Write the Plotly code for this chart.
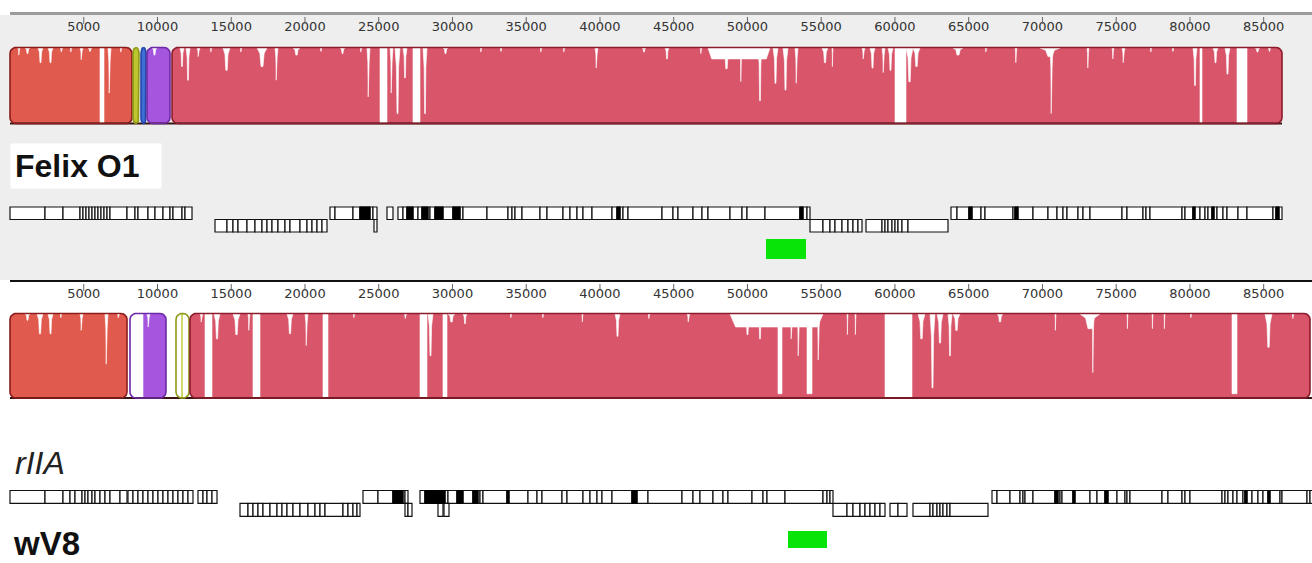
import numpy as np
import plotly.graph_objects as go

# ---------------- data (genome coordinates, bp) ----------------
TICKS = list(range(5000, 85001, 5000))

# Felix O1 LCBs
felix_block_start = [0, 8339, 8882, 9289, 10984]
felix_block_end = [8272, 8746, 9221, 10848, 86242]
felix_genome_len = 86242
# wV8 LCBs
wv8_block_start = [0, 8136, 11255, 12204]
wv8_block_end = [7933, 10577, 12136, 88140]
wv8_genome_len = 88573

# similarity dips (start, end, depth fraction of block height)
felix_dip_start = [542, 1017, 1898, 2576, 3390, 4068, 4746, 5288, 6102, 6644, 7458, 9628,
                   11526, 11933, 12679, 13560, 14441, 15594, 16747, 17967, 19187, 21018, 22374,
                   23730, 24205, 25086, 25764, 26103, 26645, 27323, 28001, 29357, 31866, 33222,
                   35934, 37493, 39663, 42850, 44409, 46782, 47324, 48341, 49494, 50714, 51731,
                   52409, 53223, 55054, 55732, 57766, 58308, 59122, 59528, 60003, 60749, 61223,
                   63935, 66105, 68139, 69834, 70512, 73021, 74716, 75394, 77292, 78780, 80207,
                   80682, 81563, 82377, 83191, 84411, 85292]
felix_dip_end = [678, 1356, 2237, 2915, 3593, 4204, 4949, 5560, 6373, 6848, 7594, 9967,
                 11798, 12204, 12882, 13696, 14916, 15730, 17425, 18170, 19662, 21154, 22713,
                 23866, 24408, 25561, 25967, 26442, 26917, 27798, 28273, 29696, 32002, 33358,
                 36070, 37629, 39866, 43120, 44680, 46918, 51528, 48816, 49630, 50986, 52070,
                 52748, 53426, 55460, 55799, 57969, 58647, 59325, 59867, 60749, 61223, 61698,
                 64613, 66241, 68275, 71190, 70715, 73157, 74852, 75597, 77428, 78916, 80479,
                 80818, 81903, 82716, 83869, 84750, 85496]
felix_dip_depth = [0.10, 0.08, 0.20, 0.20, 0.06, 0.06, 0.16, 0.05, 1.00, 0.60, 0.06, 0.10,
                   0.25, 0.43, 0.12, 0.06, 0.30, 0.06, 0.25, 0.43, 0.10, 0.05, 0.08,
                   0.06, 0.65, 1.00, 0.60, 0.87, 0.40, 1.00, 0.87, 0.08, 0.06, 0.05,
                   0.06, 0.06, 0.27, 0.06, 0.15, 0.08, 0.15, 0.28, 0.45, 0.70, 0.47,
                   0.56, 0.47, 0.20, 0.25, 0.15, 0.27, 0.33, 0.30, 1.00, 0.45, 0.25,
                   0.10, 0.06, 0.20, 0.12, 0.87, 0.27, 0.15, 0.20, 0.06, 0.05, 0.50,
                   1.00, 0.20, 0.35, 1.00, 0.06, 0.05]

wv8_dip_start = [1017, 1831, 2576, 3390, 4746, 6441, 7255, 8136, 9289, 11255, 11729, 12882,
                 13221, 13831, 15119, 16136, 16475, 18781, 20001, 21221, 23255, 26714, 27798,
                 28340, 29357, 29696, 30713, 33900, 36070, 38782, 41019, 43256, 45901, 48816,
                 49833, 50714, 52070, 52884, 53359, 54037, 54715, 56749, 57291, 59325, 61562,
                 62376, 62851, 63596, 63935, 66919, 70851, 72546, 73360, 75733, 77428, 78241,
                 80004, 82852, 85089, 86920]
wv8_dip_end = [1356, 2237, 2915, 3526, 4949, 6644, 7458, 9017, 9492, 11594, 12136, 13085,
               13696, 14238, 15594, 16272, 16950, 19187, 20204, 21560, 23391, 26917, 28273,
               28679, 29629, 30171, 30985, 34036, 36206, 38849, 41358, 43392, 46104, 55121,
               50172, 50986, 52342, 53087, 53562, 54376, 54918, 56816, 57359, 61156, 62037,
               62715, 63257, 63868, 64410, 67325, 70919, 73902, 73496, 75800, 77496, 78309,
               80140, 83191, 85564, 87056]
wv8_dip_depth = [0.08, 0.24, 0.24, 0.05, 0.20, 0.60, 0.05, 1.00, 0.16, 1.00, 1.00, 0.10,
                 1.00, 0.30, 0.25, 0.20, 1.00, 0.24, 0.38, 1.00, 0.05, 0.06, 1.00,
                 0.50, 1.00, 0.10, 0.12, 0.05, 0.05, 0.10, 0.27, 0.06, 0.10, 0.16,
                 0.25, 0.30, 0.95, 0.30, 0.50, 0.95, 0.55, 0.25, 0.25, 1.00, 0.30,
                 0.88, 0.35, 0.50, 0.20, 0.10, 0.20, 0.18, 0.70, 0.18, 0.18, 0.18,
                 0.05, 0.95, 0.40, 0.06]

# gene annotations: runs of adjacent gene boundaries
felix_fwd_runs = [
    [0, 2373, 3593, 4746, 4949, 5153, 5356, 5560, 5763, 5966, 6170, 6373, 6577, 6780, 7933,
     8475, 8678, 9356, 9831, 10373, 10848, 11051, 11662, 11865, 12340],
    [21696, 22035, 23255, 23730, 24408, 24611, 24882],
    [25561, 25967],
    [26306, 26645, 26917, 27323, 27662, 27934, 28340, 28476, 28815, 29357, 30035, 30510, 30713,
     32341, 33764, 34035, 34239, 34714, 35934, 36409, 37493, 37968, 38443, 38849, 39460, 40816,
     41155, 41358, 41561, 41900, 44206, 44951, 45290, 46307, 46918, 47324, 48816, 49630, 49969,
     51189, 53562, 53765, 54037, 54240],
    [63800, 64207, 65020, 65224, 65834, 66105, 68003, 68139, 68342, 69359, 70376, 70987, 71393,
     71665, 72410, 72749, 73224, 75394, 75733, 76817, 77021, 77292, 79462, 79665, 80207, 80343,
     80682, 81021, 81224, 81495, 81631, 81835, 82241, 82513, 83258, 83869, 85631, 85835, 86038,
     86242],
]
felix_rev_runs = [
    [13899, 14713, 15119, 15458, 16069, 16611, 17086, 17425, 17764, 18170, 18645, 18984, 19662,
     20137, 20476, 20815, 21154, 21493],
    [24679, 24882],
    [54240, 55121, 55596, 55935, 56410, 56816, 57155, 57494, 57766],
    [58037, 59122, 59325, 59528, 59800, 60003, 60206, 60478, 60884, 63596],
]
felix_black_start = [23730, 26917, 27934, 28815, 30035, 41155, 53562, 65020, 68139, 80207, 81495, 85835]
felix_black_end = [24408, 27323, 28340, 29357, 30510, 41358, 53765, 65224, 68342, 80343, 81631, 86038]

wv8_fwd_runs = [
    [0, 2373, 3593, 4068, 4407, 4882, 5085, 5288, 5560, 5763, 6102, 6441, 6780, 7458, 7933],
    [8000, 8339, 8678, 9017, 9356, 9695, 10034, 10373, 10712, 11051, 11390, 11729, 12068, 12407],
    [12746, 13085, 13357, 13696, 14035],
    [23933, 24950, 25967, 26645, 26781, 26984],
    [27798, 28137, 29493, 29696, 30307, 30713, 31391, 31730, 31866, 32069, 33697, 33832, 35120,
     35731, 36070, 37426, 37765, 38849, 39324, 39799, 40138, 40816, 42172, 42510, 43256, 45562,
     46307, 46782, 47663, 48341, 48680, 50308, 51053, 51325, 52545, 55121, 55393, 55596, 55799],
    [66580, 66919, 67800, 68478, 68681, 68817, 69359, 70851, 71054, 71190, 71326, 72071, 72207,
     73224, 73699, 74241, 74444, 75055, 75597, 75733, 75936, 78106, 78512, 79462, 79665, 80004,
     82174, 82377, 82580, 82919, 83191, 83597, 83733, 83869, 84208, 84614, 84953, 85292, 85428,
     86106, 86242, 87937, 88140, 88573],
]
wv8_rev_runs = [
    [15594, 16136, 16475, 16814, 17153, 17628, 18103, 18442, 18781, 19187, 19662, 20204, 20679,
     21018, 21357, 22577, 22916, 23255, 23527, 23730],
    [26781, 26984, 27256],
    [29018, 29357],
    [29425, 29764],
    [55799, 56749, 57155, 57630, 57969, 58308, 58647, 58986, 59325],
    [59664, 60206, 60817],
    [61223, 62376, 62579, 62851, 63054, 63257, 63528, 63732, 66308],
]
wv8_black_start = [25967, 28137, 30307, 31391, 33697, 42172, 70851, 72071, 74241, 83733, 85292]
wv8_black_end = [26645, 29493, 30713, 31730, 33832, 42510, 71054, 72207, 74444, 83869, 85428]

# highlighted region (green)
felix_green = [51257, 53969]
wv8_green = [52748, 55393]

# ---------------- styles / layout ----------------
BP_PER_PX = 67.8
X_RANGE = [-678, 88276]
FELIX_FILL = ['#e05a4e', '#bcc62e', '#3d6fd6', '#a656de', '#d8556a']
FELIX_LINE = ['#8b1c1c', '#8f9a18', '#2448a8', '#6d2aa6', '#8b1c2c']
WV8_FILL = ['#e05a4e', '#a656de', '#bcc62e', '#d8556a']
WV8_LINE = ['#8b1c1c', '#6d2aa6', '#8f9a18', '#8b1c2c']

fig = go.Figure()


def rounded(x0, x1, y0, y1, r_px=6):
    rx = min(r_px * BP_PER_PX, (x1 - x0) / 2)
    ry = r_px
    xs, ys = [], []
    for cx, cy, a0 in [(x1 - rx, y0 + ry, -90), (x1 - rx, y1 - ry, 0),
                       (x0 + rx, y1 - ry, 90), (x0 + rx, y0 + ry, 180)]:
        t = np.radians(np.linspace(a0, a0 + 90, 8))
        xs += list(cx + rx * np.cos(t))
        ys += list(cy + ry * np.sin(t))
    xs.append(xs[0]); ys.append(ys[0])
    return xs, ys


def dip_outline(s, e, d, y0, y1):
    """Outline of one white dip hanging from the block top."""
    yb = y0 + d * (y1 - y0)
    w = e - s
    c = (s + e) / 2
    yt = y0 + 0.5
    if d >= 0.9:  # full gap: straight column
        return [s, e, e, s, s], [yt, yt, yb, yb, yt]
    if w > 1500:  # broad shallow depression
        return [s, e, e - 0.06 * w, s + 0.06 * w, s], [yt, yt, yb, yb, yt]
    ym = y0 + 0.3 * (yb - y0)  # spike: wide at top, narrow tip
    return ([s, e, c + 0.22 * w, c + 0.1 * w, c - 0.1 * w, c - 0.22 * w, s],
            [yt, yt, ym, yb, yb, ym, yt])


def add_panel(starts, ends, fills, lines, dstart, dend, ddepth, y0, y1, glen):
    for s, e, f in zip(starts, ends, fills):
        xs, ys = rounded(s, e, y0, y1)
        fig.add_trace(go.Scatter(x=xs, y=ys, fill='toself', fillcolor=f, mode='lines',
                                 line=dict(width=0), hoverinfo='skip'))
    dx, dy = [], []
    for s, e, d in zip(dstart, dend, ddepth):
        px, py = dip_outline(s, e, d, y0, y1)
        dx += px + [None]; dy += py + [None]
    fig.add_trace(go.Scatter(x=dx, y=dy, fill='toself', fillcolor='white', mode='lines',
                             line=dict(width=0.6, color='white'), hoverinfo='skip'))
    fig.add_trace(go.Scatter(x=[0, glen], y=[y1, y1], mode='lines',
                             line=dict(color='#3a1414', width=2), hoverinfo='skip'))
    for s, e, l in zip(starts, ends, lines):
        xs, ys = rounded(s, e, y0, y1)
        fig.add_trace(go.Scatter(x=xs, y=ys, mode='lines', line=dict(color=l, width=1.6),
                                 hoverinfo='skip'))


def add_genes(runs, base, h, color='white'):
    cs, ws = [], []
    for r in runs:
        for a, b in zip(r[:-1], r[1:]):
            cs.append((a + b) / 2); ws.append(b - a)
    fig.add_trace(go.Bar(x=cs, width=ws, base=base, y=[h] * len(cs),
                         marker=dict(color=color, line=dict(color='#111111', width=1.2)),
                         hoverinfo='skip'))


def add_black(starts, ends, base, h):
    s = np.array(starts, float); e = np.array(ends, float)
    fig.add_trace(go.Bar(x=(s + e) / 2, width=e - s, base=base, y=[h] * len(s),
                         marker=dict(color='black', line=dict(color='black', width=1)),
                         hoverinfo='skip'))


def add_ruler(y_text, y_t0, y_t1):
    fig.add_trace(go.Scatter(x=TICKS, y=[y_text] * len(TICKS), mode='text',
                             text=[str(t) for t in TICKS],
                             textfont=dict(family='DejaVu Sans', size=13, color='#333333'),
                             hoverinfo='skip'))
    tx, ty = [], []
    for t in TICKS:
        tx += [t, t, None]; ty += [y_t0, y_t1, None]
    fig.add_trace(go.Scatter(x=tx, y=ty, mode='lines', line=dict(color='#666666', width=1),
                             hoverinfo='skip'))


def add_green(span, y0, y1):
    fig.add_trace(go.Bar(x=[(span[0] + span[1]) / 2], width=[span[1] - span[0]], base=y0,
                         y=[y1 - y0], marker=dict(color='#08e408', line=dict(width=0)),
                         hoverinfo='skip'))


# Felix O1 panel
add_ruler(28, 17, 24)
add_panel(felix_block_start, felix_block_end, FELIX_FILL, FELIX_LINE,
          felix_dip_start, felix_dip_end, felix_dip_depth, 47.5, 123.5, felix_genome_len)
add_genes(felix_fwd_runs, 207, 12.5)
add_genes(felix_rev_runs, 219.5, 12.5)
add_black(felix_black_start, felix_black_end, 207, 12.5)
add_green(felix_green, 239, 259)

# wV8 panel
add_ruler(295, 284, 291)
add_panel(wv8_block_start, wv8_block_end, WV8_FILL, WV8_LINE,
          wv8_dip_start, wv8_dip_end, wv8_dip_depth, 313.5, 398, wv8_genome_len)
add_genes(wv8_fwd_runs, 490.5, 12.8)
add_genes(wv8_rev_runs, 503.3, 13)
add_black(wv8_black_start, wv8_black_end, 490.5, 12.8)
add_green(wv8_green, 531, 548)

fig.add_annotation(x=0, y=166, xanchor='left', yanchor='middle', text='<b>Felix O1</b>',
                   showarrow=False, bgcolor='white', borderpad=4, width=142, height=36,
                   align='left', font=dict(family='Liberation Sans', size=32, color='#111111'))
fig.add_annotation(x=203, y=463, xanchor='left', yanchor='middle', text='<i>rIIA</i>',
                   showarrow=False, font=dict(family='Liberation Sans', size=32, color='#222222'))
fig.add_annotation(x=60, y=543, xanchor='left', yanchor='middle', text='<b>wV8</b>',
                   showarrow=False, font=dict(family='Liberation Sans', size=33, color='#111111'))

fig.update_layout(
    width=1312, height=563, margin=dict(l=0, r=0, t=0, b=0),
    paper_bgcolor='white', plot_bgcolor='white', showlegend=False, barmode='overlay',
    xaxis=dict(range=X_RANGE, visible=False, fixedrange=True),
    yaxis=dict(range=[563, 0], visible=False, fixedrange=True),
    shapes=[
        dict(type='rect', xref='paper', x0=0, x1=1, yref='y', y0=15, y1=280,
             fillcolor='#eeeeee', line=dict(width=0), layer='below'),
        dict(type='line', xref='x', x0=0, x1=X_RANGE[1], yref='y', y0=13.5, y1=13.5,
             line=dict(color='#9c9c9c', width=3), layer='below'),
        dict(type='line', xref='x', x0=0, x1=X_RANGE[1], yref='y', y0=281, y1=281,
             line=dict(color='#111111', width=2), layer='below'),
    ],
)

fig.write_html('out.html', config={'displayModeBar': False},
               post_script="document.body.style.margin='0px';document.body.style.overflow='hidden';")
